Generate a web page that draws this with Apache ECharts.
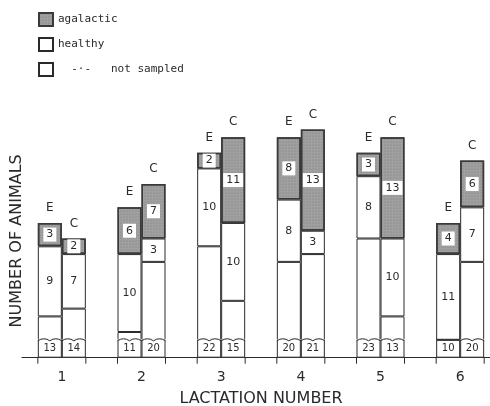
<!DOCTYPE html>
<html>
<head>
<meta charset="utf-8">
<script src="https://cdn.jsdelivr.net/npm/echarts@6/dist/echarts.min.js"></script>
<style>
html, body { margin: 0; padding: 0; background: #fff; }
#chart { width: 490px; height: 406px; }
</style>
</head>
<body>
<div id="chart"></div>
<script>
// lactation numbers
const categories = ['1', '2', '3', '4', '5', '6']
// E group
const notSampledE = [13, 11, 22, 20, 23, 10]
const healthyE = [9, 10, 10, 8, 8, 11]
const agalacticE = [3, 6, 2, 8, 3, 4]
// C group
const notSampledC = [14, 20, 15, 21, 13, 20]
const healthyC = [7, 3, 10, 3, 10, 7]
const agalacticC = [2, 7, 11, 13, 13, 6]

// broken scale: the first BREAK animals are squeezed into a small box
const BREAK = 10
const BOX = 2.3

const font = 'DejaVu Sans'
const ink = '#2a2a2a'
const grey = '#a0a0a0'
const barW = 24

const chart = echarts.init(document.getElementById('chart'))

function stackSeries (stack, ns, healthy, agal, letter) {
  const border = { color: '#fff', borderColor: ink, borderWidth: 1 }
  return [
    {
      name: 'not sampled',
      type: 'bar',
      stack: stack,
      barWidth: barW,
      barGap: '0%',
      itemStyle: border,
      label: {
        show: true,
        position: 'inside',
        color: ink,
        fontFamily: font,
        fontSize: 10,
        formatter: p => ns[p.dataIndex]
      },
      data: ns.map(() => BOX)
    },
    {
      name: 'not sampled',
      type: 'bar',
      stack: stack,
      barWidth: barW,
      barGap: '0%',
      itemStyle: border,
      data: ns.map(v => v - BREAK)
    },
    {
      name: 'healthy',
      type: 'bar',
      stack: stack,
      barWidth: barW,
      barGap: '0%',
      itemStyle: border,
      label: {
        show: true,
        position: 'inside',
        color: ink,
        fontFamily: font,
        fontSize: 11
      },
      data: healthy
    },
    {
      name: 'agalactic',
      type: 'bar',
      stack: stack,
      barWidth: barW,
      barGap: '0%',
      itemStyle: {
        color: grey,
        borderColor: '#3a3a3a',
        borderWidth: 1.5,
        decal: {
          symbol: 'circle',
          symbolSize: 0.6,
          color: 'rgba(60,60,60,0.35)',
          dashArrayX: [2, 1],
          dashArrayY: [2, 1]
        }
      },
      label: {
        show: true,
        position: 'inside',
        color: ink,
        fontFamily: font,
        fontSize: 11,
        backgroundColor: '#fff',
        padding: [2, 3, 1, 3]
      },
      data: agal
    },
    {
      name: '',
      type: 'bar',
      stack: stack,
      barWidth: barW,
      barGap: '0%',
      label: {
        show: true,
        position: 'top',
        distance: 9,
        color: ink,
        fontFamily: font,
        fontSize: 12,
        formatter: letter
      },
      data: ns.map(() => 0)
    }
  ]
}

// wavy break line on the small box and little ticks below the axis
const breakSeries = {
  type: 'custom',
  z: 5,
  silent: true,
  renderItem (params, api) {
    const i = api.value(0)
    const c = api.coord([i, 0])
    const yBox = api.coord([i, BOX])[1]
    const left = c[0] - barW
    const right = c[0] + barW
    const kids = []
    const wave = (x0) => {
      const w = barW / 2
      kids.push({ type: 'rect', shape: { x: x0 + 1, y: yBox - 1.5, width: barW - 2, height: 3 }, style: { fill: '#fff' } })
      for (let k = 0; k < 2; k++) {
        const a = x0 + k * w
        kids.push({
          type: 'bezierCurve',
          shape: { x1: a, y1: yBox + 1, x2: a + w, y2: yBox + 1, cpx1: a + w / 2, cpy1: yBox - 3 },
          style: { stroke: ink, lineWidth: 1, fill: null }
        })
      }
    }
    if (api.value(1) > BREAK) wave(left)
    if (api.value(2) > BREAK) wave(c[0])
    const y0 = c[1]
    kids.push({ type: 'line', shape: { x1: left, y1: y0, x2: left, y2: y0 + 6 }, style: { stroke: ink, lineWidth: 1 } })
    kids.push({ type: 'line', shape: { x1: right, y1: y0, x2: right, y2: y0 + 6 }, style: { stroke: ink, lineWidth: 1 } })
    return { type: 'group', children: kids }
  },
  data: categories.map((c, i) => [i, notSampledE[i], notSampledC[i]])
}

const option = {
  backgroundColor: '#fff',
  animation: false,
  legend: {
    data: [
      { name: 'agalactic', icon: 'rect' },
      { name: 'healthy', icon: 'rect' },
      { name: 'not sampled', icon: 'rect' }
    ],
    orient: 'vertical',
    left: 38,
    top: 12,
    padding: 0,
    itemWidth: 14,
    itemHeight: 13,
    itemGap: 10,
    selectedMode: false,
    textStyle: { color: ink, fontFamily: 'DejaVu Sans Mono', fontSize: 11 },
    formatter: name => name === 'not sampled' ? '  -·-   not sampled' : name
  },
  grid: {
    left: 22,
    right: -10,
    top: 124,
    bottom: 48.3,
    containLabel: false,
    outerBoundsMode: 'none'
  },
  xAxis: {
    type: 'category',
    data: categories,
    axisLine: { lineStyle: { color: ink, width: 1.2 } },
    axisTick: { show: false },
    axisLabel: { color: ink, fontFamily: font, fontSize: 14, margin: 13 },
    name: 'LACTATION NUMBER',
    nameLocation: 'middle',
    nameGap: 33,
    nameTextStyle: { color: ink, fontFamily: font, fontSize: 16 }
  },
  yAxis: {
    type: 'value',
    min: 0,
    max: 30,
    axisLine: { show: false },
    axisTick: { show: false },
    axisLabel: { show: false },
    splitLine: { show: false },
    name: 'NUMBER OF ANIMALS',
    nameLocation: 'middle',
    nameRotate: 90,
    nameGap: -3,
    nameTextStyle: { color: ink, fontFamily: font, fontSize: 16 }
  },
  series: [
    ...stackSeries('E', notSampledE, healthyE, agalacticE, 'E'),
    ...stackSeries('C', notSampledC, healthyC, agalacticC, 'C'),
    breakSeries
  ]
}

chart.setOption(option)
window.addEventListener('resize', () => {
  chart.resize()
})
</script>
</body>
</html>
